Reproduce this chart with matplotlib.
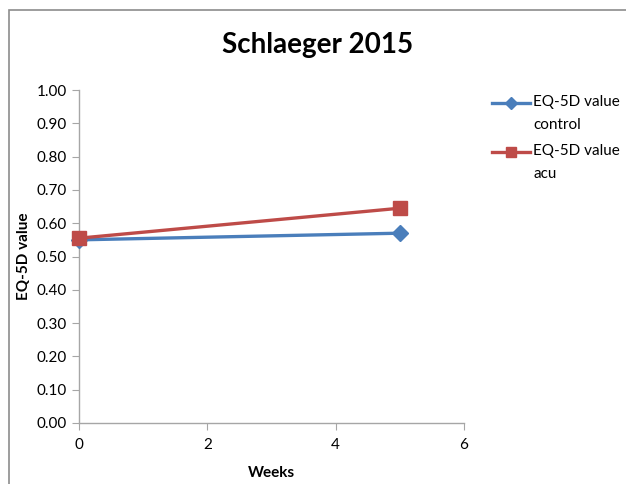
import matplotlib
matplotlib.use("Agg")
import matplotlib.pyplot as plt
from matplotlib.patches import Rectangle
from matplotlib.lines import Line2D

weeks = [0, 5]
control = [0.55, 0.57]
acu = [0.555, 0.645]
labels = ["EQ-5D value\ncontrol", "EQ-5D value\nacu"]
yticks = [0.0, 0.1, 0.2, 0.3, 0.4, 0.5, 0.6, 0.7, 0.8, 0.9, 1.0]
xticks = [0, 2, 4, 6]

plt.rcParams['font.family'] = ['Lato', 'DejaVu Sans']

W, H = 626, 484
fig = plt.figure(figsize=(6.26, 4.84), dpi=100)
fig.patches.append(Rectangle((8.5/W, -0.1), 1.2, 1 - 10.5/H + 0.1,
                             transform=fig.transFigure, fill=False,
                             edgecolor='#8c8c8c', linewidth=1.2))
ax = fig.add_axes([79/W, 1 - 423/H, (464 - 79)/W, (423 - 90)/H])

colors = ['#4A7EBB', '#BE4B48']
markers = ['D', 's']
msizes = [8, 10]
series = [control, acu]
for vals, c, m, ms, lab in zip(series, colors, markers, msizes, labels):
    ax.plot(weeks, vals, color=c, lw=2.4, marker=m, markersize=ms,
            label=lab, clip_on=False, zorder=3)

ax.set_xlim(0, 6)
ax.set_ylim(0, 1.0)
ax.set_xticks(xticks)
ax.set_yticks(yticks)
ax.set_yticklabels([f"{v:.2f}" for v in yticks])
for s in ['top', 'right']:
    ax.spines[s].set_visible(False)
for s in ['left', 'bottom']:
    ax.spines[s].set_color('#a6a6a6')
    ax.spines[s].set_linewidth(1)
ax.tick_params(axis='both', colors='#a6a6a6', labelcolor='black', labelsize=11,
               length=5, direction='out')
ax.tick_params(axis='x', pad=6)

ax.set_xlabel("Weeks", fontsize=11, fontweight='bold', labelpad=10)
ax.set_ylabel("EQ-5D value", fontsize=11, fontweight='bold', labelpad=4)
fig.text(318/W, 1 - 45/H, "Schlaeger 2015", ha='center', va='center',
         fontsize=20, fontweight='bold')

# legend drawn manually so the key aligns with the first text line
ys = [103, 152]
for y, c, m, ms, lab in zip(ys, colors, markers, msizes, labels):
    yf = 1 - y/H
    fig.add_artist(Line2D([492/W, 530/W], [yf, yf], color=c, lw=2.4,
                          transform=fig.transFigure))
    fig.add_artist(Line2D([511/W], [yf], color=c, marker=m, markersize=ms*0.75,
                          transform=fig.transFigure))
    fig.text(533/W, 1 - (y - 8)/H, lab, ha='left', va='top', fontsize=11,
             linespacing=1.8)

fig.savefig("out.png", dpi=100)
